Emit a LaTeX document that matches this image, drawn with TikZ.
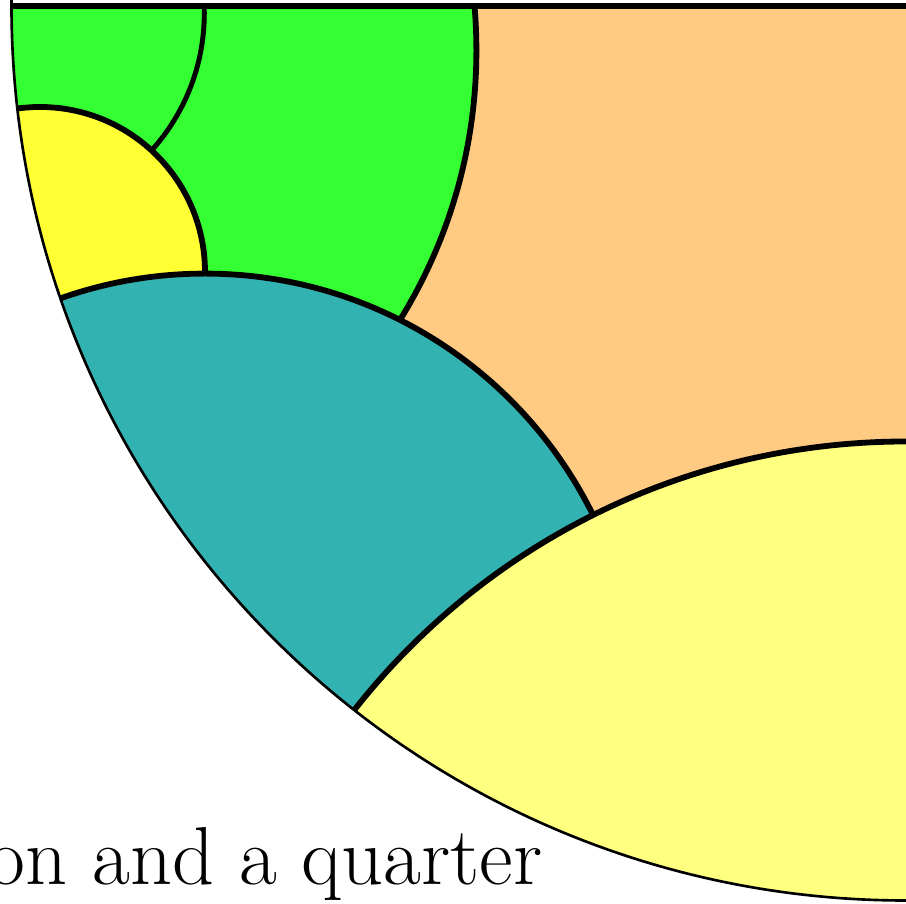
\documentclass[tikz,border=0pt]{standalone}
\usepackage{xcolor}
\usepackage{tikz}
\definecolor{Peach}{RGB}{255,203,130}
\definecolor{Teal} {RGB}{51,178,178}
\definecolor{Lime} {RGB}{51,255,51}
\definecolor{Lemon}{RGB}{255,255,51}
\definecolor{Cream}{RGB}{255,255,128}
\tikzset{
  rim/.style ={draw=black, line width=0.75pt},
  wall/.style={draw=black, line width=1.65pt},
  seam/.style={draw=black, line width=1.4pt},
  caption/.style={anchor=base east, inner sep=0pt,
                  font=\fontsize{23.4}{28}\selectfont}
}

\begin{document}
\begin{tikzpicture}[x=0.01cm, y=-0.01cm]
  \useasboundingbox (0,0) rectangle (906,904);
  \coordinate (o)     at (906,6);
  \coordinate (lime)  at (-36.3,50.5);
  \coordinate (split) at (-0.7,13.2);
  \coordinate (lemon) at (40,272);
  \coordinate (teal)  at (205,706);
  \coordinate (cream) at (906,1142.4);

  % tiles, each one painted over the ones before it
  \begin{scope}
    \clip (o) circle[radius=894.5];
    \clip (0,6) rectangle (906,904);
    \fill[Peach] (0,6) rectangle (906,904);
    \filldraw[wall, fill=Lime]  (lime)  circle[radius=512.7];
    \draw[seam]                 (split) circle[radius=205];
    \filldraw[wall, fill=Lemon] (lemon) circle[radius=165];
    \filldraw[wall, fill=Teal]  (teal)  circle[radius=432.4];
    \filldraw[wall, fill=Cream] (cream) circle[radius=700.9];
  \end{scope}

  % boundary
  \draw[rim]  (o) circle[radius=894.5];
  \draw[wall] (o) -- ++(-894.5,0);

  \node[caption] (label) at (543,885) {on and a quarter};
\end{tikzpicture}
\end{document}
